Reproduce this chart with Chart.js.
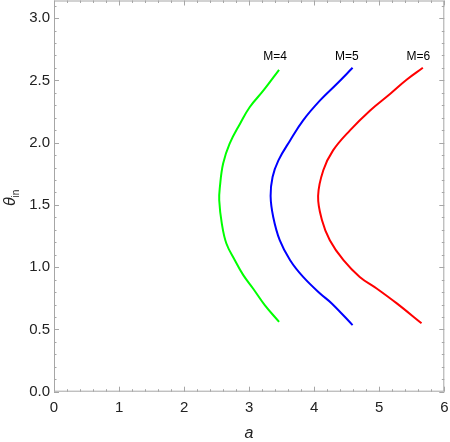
<!DOCTYPE html>
<html>
<head>
<meta charset="utf-8">
<script src="https://cdn.jsdelivr.net/npm/chart.js@4/dist/chart.umd.min.js"></script>
<style>
html,body{margin:0;padding:0;background:#fff;}
canvas{display:block;}
</style>
</head>
<body>
<canvas id="chart" width="450" height="442"></canvas>
<script>
// curve data (a, theta_in)
const aM4 = [3.46, 3.22, 3.01, 2.86, 2.70, 2.60, 2.55, 2.54, 2.58, 2.65, 2.78, 2.91, 3.06, 3.24, 3.46];
const thM4 = [2.585, 2.419, 2.286, 2.152, 1.992, 1.832, 1.644, 1.537, 1.350, 1.190, 1.056, 0.936, 0.829, 0.695, 0.561];

const aM5 = [4.59, 4.35, 4.09, 3.83, 3.63, 3.45, 3.36, 3.33, 3.37, 3.47, 3.63, 3.83, 4.09, 4.27, 4.59];
const thM5 = [2.601, 2.473, 2.339, 2.179, 2.018, 1.858, 1.724, 1.571, 1.403, 1.217, 1.056, 0.922, 0.789, 0.709, 0.535];

const aM6 = [5.67, 5.42, 5.17, 4.86, 4.55, 4.29, 4.14, 4.06, 4.12, 4.24, 4.45, 4.70, 4.96, 5.27, 5.65];
const thM6 = [2.601, 2.505, 2.393, 2.259, 2.099, 1.938, 1.778, 1.571, 1.377, 1.217, 1.056, 0.922, 0.829, 0.709, 0.549];

const curveNames = ["M=4", "M=5", "M=6"];
const labelA = [3.40, 4.50, 5.60];
const labelTheta = 2.69;

const xTicks = [0, 1, 2, 3, 4, 5, 6];
const yTicks = [0, 0.5, 1.0, 1.5, 2.0, 2.5, 3.0];

const pts = (xs, ys) => xs.map((x, i) => ({x: x, y: ys[i]}));

const FRAME = "#a6a6a6";
const FONT = "'Liberation Sans', Arial, sans-serif";

// frame with inward ticks on all sides, axis titles, curve labels
const decorations = {
  id: "decorations",
  afterDraw(chart) {
    const {ctx, chartArea: ca, scales: {x, y}} = chart;
    ctx.save();
    ctx.strokeStyle = FRAME;
    ctx.lineWidth = 1;
    ctx.strokeRect(ca.left + 0.5, ca.top + 0.5, ca.right - ca.left - 1, ca.bottom - ca.top - 1);

    ctx.beginPath();
    for (let i = 0; i <= 30; i++) {
      const v = i * 0.2;
      const len = i % 5 === 0 ? 5 : 2.5;
      const px = Math.round(x.getPixelForValue(v)) + 0.5;
      ctx.moveTo(px, ca.bottom); ctx.lineTo(px, ca.bottom - len);
      ctx.moveTo(px, ca.top); ctx.lineTo(px, ca.top + len);
    }
    for (let i = 0; i <= 31; i++) {
      const v = i * 0.1;
      const len = i % 5 === 0 ? 5 : 2.5;
      const py = Math.round(y.getPixelForValue(v)) + 0.5;
      ctx.moveTo(ca.left, py); ctx.lineTo(ca.left + len, py);
      ctx.moveTo(ca.right, py); ctx.lineTo(ca.right - len, py);
    }
    ctx.stroke();

    ctx.fillStyle = "#000";
    ctx.font = "12px " + FONT;
    ctx.textAlign = "center";
    ctx.textBaseline = "middle";
    curveNames.forEach((n, i) => {
      ctx.fillText(n, x.getPixelForValue(labelA[i]), y.getPixelForValue(labelTheta));
    });

    ctx.fillStyle = "#222";
    ctx.font = "italic 16px " + FONT;
    ctx.textBaseline = "alphabetic";
    ctx.fillText("a", 249, 438);

    ctx.translate(15, 206);
    ctx.rotate(-Math.PI / 2);
    ctx.textAlign = "left";
    ctx.font = "italic 16px " + FONT;
    ctx.fillText("\u03b8", 0, 0);
    ctx.font = "10px " + FONT;
    ctx.fillText("in", 8.5, 3.5);
    ctx.restore();
  }
};

new Chart(document.getElementById("chart"), {
  type: "scatter",
  data: {
    datasets: [
      {label: curveNames[0], data: pts(aM4, thM4), borderColor: "#00ff00"},
      {label: curveNames[1], data: pts(aM5, thM5), borderColor: "#0000ff"},
      {label: curveNames[2], data: pts(aM6, thM6), borderColor: "#ff0000"}
    ].map(d => Object.assign(d, {showLine: true, pointRadius: 0, borderWidth: 2, tension: 0.4, fill: false}))
  },
  options: {
    responsive: false,
    animation: false,
    layout: {padding: {left: 0, right: 5.7, top: 0.5, bottom: 0}},
    plugins: {legend: {display: false}, tooltip: {enabled: false}},
    scales: {
      x: {
        type: "linear", min: 0, max: 6,
        afterBuildTicks: s => { s.ticks = xTicks.map(v => ({value: v})); },
        afterFit: s => { s.height = 50.3; s.paddingLeft = 0; s.paddingRight = 0; },
        grid: {display: false, drawTicks: false},
        border: {display: false},
        ticks: {color: "#222", font: {size: 15, family: FONT}, padding: 7, maxRotation: 0,
          callback: v => String(v)}
      },
      y: {
        type: "linear", min: 0, max: Math.PI,
        afterBuildTicks: s => { s.ticks = yTicks.map(v => ({value: v})); },
        afterFit: s => { s.width = 54; s.paddingTop = 0; s.paddingBottom = 0; },
        grid: {display: false, drawTicks: false},
        border: {display: false},
        ticks: {color: "#222", font: {size: 15, family: FONT}, padding: 4,
          callback: v => v.toFixed(1)}
      }
    }
  },
  plugins: [decorations]
});
</script>
</body>
</html>
